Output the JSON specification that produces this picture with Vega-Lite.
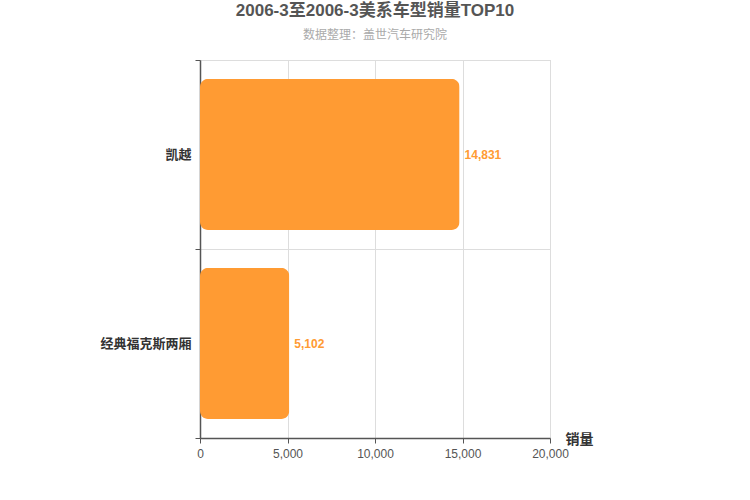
{
  "$schema": "https://vega.github.io/schema/vega-lite/v6.json",
  "width": 350,
  "height": 378,
  "autosize": "none",
  "padding": {"left": 200, "top": 60, "right": 200, "bottom": 62},
  "background": "white",
  "config": {
    "font": "Liberation Sans, Noto Sans CJK SC",
    "view": {"stroke": "#cccccc"}
  },
  "title": {
    "text": "2006-3至2006-3美系车型销量TOP10",
    "subtitle": "数据整理：盖世汽车研究院",
    "fontSize": 17,
    "fontWeight": "bold",
    "color": "#555555",
    "subtitleColor": "#aaaaaa",
    "subtitleFontSize": 12,
    "subtitlePadding": 10,
    "offset": 12,
    "anchor": "middle"
  },
  "data": {
    "values": [
      {"model": "凯越", "sales": 14831},
      {"model": "经典福克斯两厢", "sales": 5102}
    ]
  },
  "encoding": {
    "y": {
      "field": "model",
      "type": "nominal",
      "sort": null,
      "scale": {"paddingInner": 0, "paddingOuter": 0},
      "axis": {
        "title": null,
        "tickBand": "extent",
        "grid": true,
        "gridColor": "#dddddd",
        "domainColor": "#555555",
        "domainWidth": 1.5,
        "tickColor": "#555555",
        "tickSize": 5,
        "labelFontSize": 13,
        "labelFontWeight": "bold",
        "labelColor": "#333333",
        "labelPadding": 4
      }
    },
    "x": {
      "field": "sales",
      "type": "quantitative",
      "scale": {"domain": [0, 20000]},
      "axis": {
        "title": "销量",
        "titleAnchor": "end",
        "titleAngle": 0,
        "titleAlign": "left",
        "titleBaseline": "bottom",
        "titleX": 365,
        "titleY": 8,
        "titleFontSize": 14,
        "titleFontWeight": "bold",
        "titleColor": "#333333",
        "values": [0, 5000, 10000, 15000, 20000],
        "format": ",.0f",
        "gridColor": "#dddddd",
        "domainColor": "#555555",
        "domainWidth": 1.5,
        "tickColor": "#555555",
        "tickSize": 5,
        "labelFontSize": 12,
        "labelColor": "#555555",
        "labelPadding": 5,
        "labelFlush": false
      }
    }
  },
  "layer": [
    {
      "mark": {"type": "bar", "color": "#ff9b33", "cornerRadius": 8, "height": {"band": 0.8}}
    },
    {
      "mark": {"type": "text", "align": "left", "dx": 5, "fontSize": 12, "fontWeight": "bold", "color": "#ff9b33"},
      "encoding": {
        "text": {"field": "sales", "type": "quantitative", "format": ",.0f"}
      }
    }
  ]
}
